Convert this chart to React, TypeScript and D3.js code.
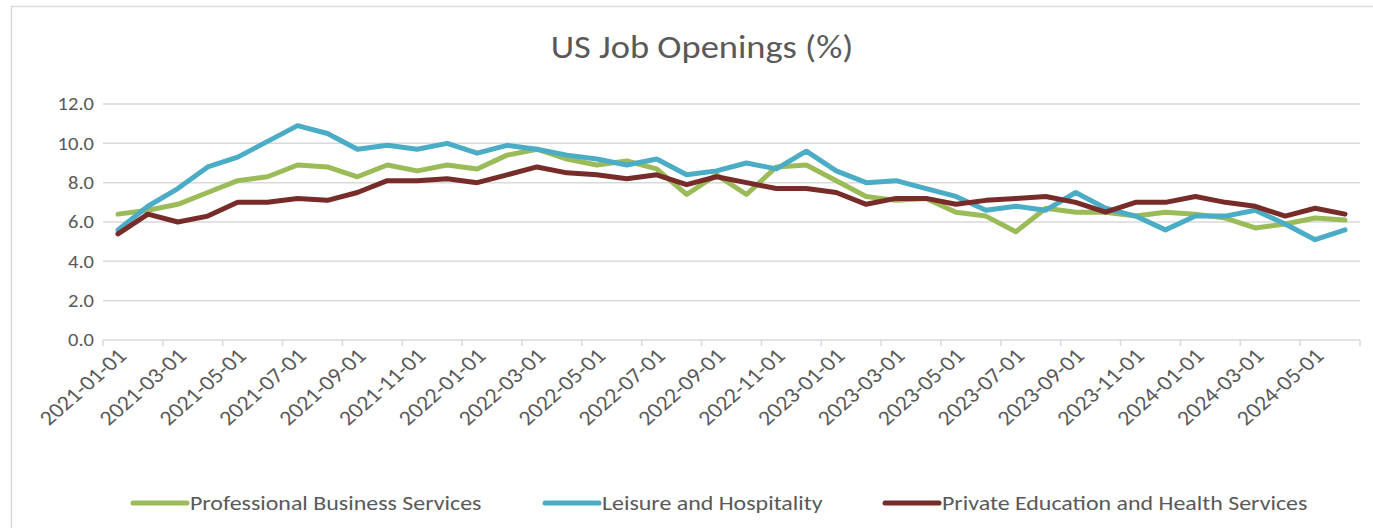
import React from "react";
import * as d3 from "d3";

const months: string[] = [
  "2021-01-01","2021-02-01","2021-03-01","2021-04-01","2021-05-01","2021-06-01",
  "2021-07-01","2021-08-01","2021-09-01","2021-10-01","2021-11-01","2021-12-01",
  "2022-01-01","2022-02-01","2022-03-01","2022-04-01","2022-05-01","2022-06-01",
  "2022-07-01","2022-08-01","2022-09-01","2022-10-01","2022-11-01","2022-12-01",
  "2023-01-01","2023-02-01","2023-03-01","2023-04-01","2023-05-01","2023-06-01",
  "2023-07-01","2023-08-01","2023-09-01","2023-10-01","2023-11-01","2023-12-01",
  "2024-01-01","2024-02-01","2024-03-01","2024-04-01","2024-05-01","2024-06-01",
];

const professionalBusiness: number[] = [
  6.4, 6.6, 6.9, 7.5, 8.1, 8.3, 8.9, 8.8, 8.3, 8.9, 8.6, 8.9,
  8.7, 9.4, 9.7, 9.2, 8.9, 9.1, 8.7, 7.4, 8.4, 7.4, 8.8, 8.9,
  8.1, 7.3, 7.1, 7.2, 6.5, 6.3, 5.5, 6.7, 6.5, 6.5, 6.3, 6.5,
  6.4, 6.2, 5.7, 5.9, 6.2, 6.1,
];

const leisureHospitality: number[] = [
  5.6, 6.8, 7.7, 8.8, 9.3, 10.1, 10.9, 10.5, 9.7, 9.9, 9.7, 10.0,
  9.5, 9.9, 9.7, 9.4, 9.2, 8.9, 9.2, 8.4, 8.6, 9.0, 8.7, 9.6,
  8.6, 8.0, 8.1, 7.7, 7.3, 6.6, 6.8, 6.6, 7.5, 6.7, 6.3, 5.6,
  6.3, 6.3, 6.6, 5.9, 5.1, 5.6,
];

const privateEducationHealth: number[] = [
  5.4, 6.4, 6.0, 6.3, 7.0, 7.0, 7.2, 7.1, 7.5, 8.1, 8.1, 8.2,
  8.0, 8.4, 8.8, 8.5, 8.4, 8.2, 8.4, 7.9, 8.3, 8.0, 7.7, 7.7,
  7.5, 6.9, 7.2, 7.2, 6.9, 7.1, 7.2, 7.3, 7.0, 6.5, 7.0, 7.0,
  7.3, 7.0, 6.8, 6.3, 6.7, 6.4,
];

const yTicks: number[] = [0, 2, 4, 6, 8, 10, 12];

const seriesNames: string[] = [
  "Professional Business Services",
  "Leisure and Hospitality",
  "Private Education and Health Services",
];

const FONT = "Carlito, 'Open Sans', sans-serif";
const SX = 1.14;

export default function App() {
  const W = 1373;
  const H = 528;
  const left = 103;
  const right = 1360;
  const top = 104;
  const bottom = 340;

  const x = d3.scaleBand<string>().domain(months).range([left, right]).padding(0);
  const y = d3.scaleLinear().domain([0, 12]).range([bottom, top]);
  const bw = x.bandwidth();
  const cx = (m: string) => (x(m) as number) + bw / 2;

  const seriesData = [professionalBusiness, leisureHospitality, privateEducationHealth];
  const colors = ["#9BBB59", "#4BACC6", "#772C2A"];

  const line = d3
    .line<number>()
    .x((_, i) => cx(months[i]))
    .y((v) => y(v));

  const tickMonths = months.filter((_, i) => i % 2 === 0);
  const tickXs = [...tickMonths.map((m) => x(m) as number), right];

  const legendItems = [
    { sx: 133, tx: 190 },
    { sx: 545, tx: 602 },
    { sx: 885, tx: 942 },
  ];

  return (
    <div style={{ position: "absolute", left: 0, top: 0 }}>
      <svg width={W} height={H} style={{ display: "block", background: "#fff" }}>
        <rect x={11.5} y={6.5} width={W + 20} height={H + 20} fill="#fff" stroke="#d9d9d9" strokeWidth={1.5} />
        <text
          transform={`translate(702 58) scale(${SX} 1)`}
          textAnchor="middle"
          fontFamily={FONT}
          fontSize={32}
          fill="#595959"
        >
          US Job Openings (%)
        </text>
        {yTicks.map((t) => (
          <g key={t}>
            {t !== 0 && (
              <line x1={left} x2={right} y1={y(t)} y2={y(t)} stroke="#d9d9d9" strokeWidth={1.5} />
            )}
            <text
              transform={`translate(94 ${y(t)}) scale(${SX} 1)`}
              dy="0.35em"
              textAnchor="end"
              fontFamily={FONT}
              fontSize={18}
              fill="#595959"
            >
              {t.toFixed(1)}
            </text>
          </g>
        ))}
        <line x1={left} x2={right} y1={bottom} y2={bottom} stroke="#d9d9d9" strokeWidth={1.5} />
        {tickXs.map((tx, i) => (
          <line key={i} x1={tx} x2={tx} y1={bottom} y2={bottom + 6} stroke="#d9d9d9" strokeWidth={1.5} />
        ))}
        {tickMonths.map((m) => {
          const ax = cx(m) + 4;
          const ay = 352;
          return (
            <text
              key={m}
              transform={`translate(${ax} ${ay}) scale(${SX} 1) rotate(-45)`}
              dy="0.35em"
              textAnchor="end"
              fontFamily={FONT}
              fontSize={21}
              fill="#595959"
            >
              {m}
            </text>
          );
        })}
        {seriesData.map((s, i) => (
          <path
            key={i}
            d={line(s) || ""}
            fill="none"
            stroke={colors[i]}
            strokeWidth={5}
            strokeLinejoin="round"
            strokeLinecap="round"
          />
        ))}
        {legendItems.map((it, i) => (
          <g key={i}>
            <line x1={it.sx} x2={it.sx + 54} y1={503} y2={503} stroke={colors[i]} strokeWidth={5} strokeLinecap="round" />
            <text
              transform={`translate(${it.tx} 503) scale(${SX} 1)`}
              dy="0.35em"
              fontFamily={FONT}
              fontSize={21}
              fill="#595959"
            >
              {seriesNames[i]}
            </text>
          </g>
        ))}
      </svg>
    </div>
  );
}
